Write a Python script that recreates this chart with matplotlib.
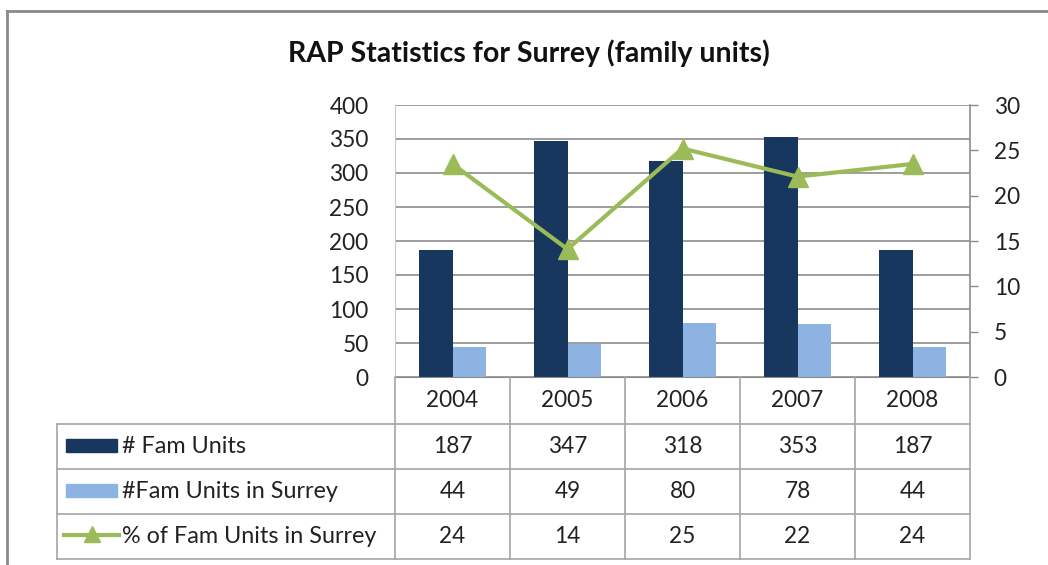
import numpy as np
import matplotlib
matplotlib.use("Agg")
import matplotlib.pyplot as plt
from matplotlib.lines import Line2D
from matplotlib.patches import Rectangle
from matplotlib.transforms import blended_transform_factory

# data
years = ["2004", "2005", "2006", "2007", "2008"]
fam_units = [187, 347, 318, 353, 187]
fam_surrey = [44, 49, 80, 78, 44]
pct_surrey = [23.5, 14.1, 25.2, 22.1, 23.5]
pct_labels = ["24", "14", "25", "22", "24"]
series_names = ["# Fam Units", "#Fam Units in Surrey", "% of Fam Units in Surrey"]

dark = "#17375E"
light = "#8DB3E2"
green = "#9BBB59"
grid_col = "#8c8c8c"
tab_col = "#a6a6a6"
txt = 16.3

plt.rcParams["font.family"] = ["Lato", "DejaVu Sans"]

W, H = 1048, 565
fig = plt.figure(figsize=(W / 100, H / 100), dpi=100)

def fx(x):
    return x / W

def fy(y):
    return 1 - y / H

# plot area in pixels: x 395..970, y 105..377
ax = fig.add_axes([fx(395), fy(377), fx(970) - fx(395), (377 - 105) / H])
x = np.arange(len(years))
w = 0.287
ax.bar(x - w / 2, fam_units, w, color=dark, zorder=2)
ax.bar(x + w / 2, fam_surrey, w, color=light, zorder=2)
ax.set_xlim(-0.5, len(years) - 0.5)
ax.set_ylim(0, 400)
ax.set_yticks(range(0, 401, 50))
ax.set_xticks([])
ax.yaxis.grid(True, color=grid_col, lw=1.2)
ax.set_axisbelow(True)
ax.tick_params(axis="y", length=0, pad=19, labelsize=txt, colors="#222222")
for s in ["top", "right"]:
    ax.spines[s].set_visible(False)
ax.spines["left"].set_color("#c8c8c8")
ax.spines["bottom"].set_color(grid_col)

ax2 = ax.twinx()
ax2.plot(x, pct_surrey, color=green, lw=3, marker="^", ms=14, zorder=3)
ax2.set_ylim(0, 30)
ax2.set_yticks(range(0, 31, 5))
ax2.tick_params(axis="y", direction="out", length=6, width=1, color=grid_col,
                pad=11, labelsize=txt, labelcolor="#222222")
for s in ["top", "left", "bottom"]:
    ax2.spines[s].set_visible(False)
ax2.spines["right"].set_color(grid_col)
ax2.spines["right"].set_linewidth(1.2)

# title
fig.text(fx(529), fy(53), "RAP Statistics for Surrey (family units)",
         ha="center", va="center", fontsize=20.5, fontweight="bold", color="#111111")

# outer chart border
fig.add_artist(Line2D([fx(7), fx(7)], [fy(11), 0], transform=fig.transFigure,
                      color="#8a8a8a", lw=2))
fig.add_artist(Line2D([fx(7), 1], [fy(11), fy(11)], transform=fig.transFigure,
                      color="#8a8a8a", lw=2))

# data table under the plot
tr = blended_transform_factory(ax.transData, fig.transFigure)
rows_y = [377, 424, 469, 514, 559]
for yy in rows_y[1:]:
    fig.add_artist(Line2D([fx(57), fx(395)], [fy(yy), fy(yy)],
                          transform=fig.transFigure, color=tab_col, lw=1.2))
    fig.add_artist(Line2D([-0.5, len(years) - 0.5], [fy(yy), fy(yy)],
                          transform=tr, color=tab_col, lw=1.2))
fig.add_artist(Line2D([fx(57), fx(57)], [fy(424), fy(559)],
                      transform=fig.transFigure, color=tab_col, lw=1.2))
for xe in np.arange(len(years) + 1) - 0.5:
    fig.add_artist(Line2D([xe, xe], [fy(377), fy(559)], transform=tr,
                          color=tab_col, lw=1.2))

row_vals = [years, [str(v) for v in fam_units], [str(v) for v in fam_surrey], pct_labels]
for r, vals in enumerate(row_vals):
    yc = (rows_y[r] + rows_y[r + 1]) / 2
    for i, v in enumerate(vals):
        fig.text(x[i], fy(yc), v, transform=tr, ha="center", va="center",
                 fontsize=txt, color="#222222")

# legend keys in the table
for r, name in enumerate(series_names):
    yc = (rows_y[r + 1] + rows_y[r + 2]) / 2
    fig.text(fx(122), fy(yc), name, ha="left", va="center", fontsize=txt + 0.5,
             color="#222222")
fig.add_artist(Rectangle((fx(66), fy(452)), fx(51), 13 / H, transform=fig.transFigure,
                         color=dark))
fig.add_artist(Rectangle((fx(66), fy(497)), fx(51), 13 / H, transform=fig.transFigure,
                         color=light))
fig.add_artist(Line2D([fx(64), fx(119)], [fy(535), fy(535)], transform=fig.transFigure,
                      color=green, lw=3))
fig.add_artist(Line2D([fx(91.5)], [fy(534)], transform=fig.transFigure, color=green,
                      marker="^", ms=11, lw=0))

fig.savefig("out.png", dpi=100)
